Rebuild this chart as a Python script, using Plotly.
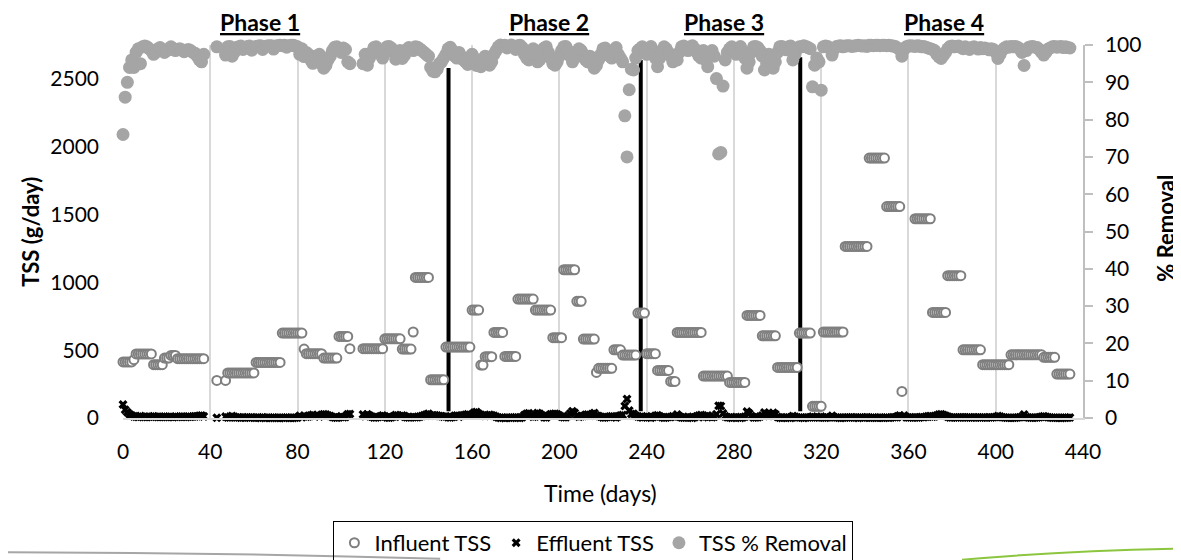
import plotly.graph_objects as go

# ---------------- data ----------------
# Influent TSS (g/day): weekly composite values held constant over runs of days
inf_start = [0, 5, 6, 14, 19, 22, 25, 43, 47, 48, 61, 73, 83, 84, 92, 99, 104,
             110, 120, 128, 133, 134, 141, 148, 160, 164, 166, 170, 175, 181, 189,
             197, 202, 208, 211, 217, 218, 225, 229, 236, 240, 245, 251, 254, 266,
             278, 286, 293, 300, 310, 316, 321, 331, 342, 350, 357, 363, 371, 378,
             385, 394, 407, 422, 428]
inf_end = [4, 5, 13, 18, 21, 24, 37, 43, 47, 60, 72, 82, 83, 91, 98, 103, 104,
           119, 127, 132, 133, 140, 147, 159, 163, 165, 169, 174, 180, 188, 196,
           201, 207, 210, 216, 217, 224, 228, 235, 239, 244, 250, 253, 265, 277,
           285, 292, 299, 309, 315, 320, 330, 341, 349, 356, 357, 370, 377, 384,
           393, 406, 421, 427, 434]
inf_value = [413, 430, 472, 393, 442, 461, 437, 277, 277, 332, 410, 626, 508, 474,
             442, 601, 511, 511, 584, 508, 634, 1036, 282, 523, 796, 390, 452, 631,
             454, 877, 796, 592, 1093, 860, 582, 336, 366, 503, 464, 774, 474, 351,
             270, 631, 309, 262, 756, 606, 373, 626, 86, 634, 1265, 1916, 1559, 196,
             1469, 778, 1049, 503, 393, 466, 447, 324]

# Daily blocks for effluent TSS and % removal
blk_start = [0, 43, 47, 110, 148, 237, 311]
blk_end = [37, 43, 104, 147, 236, 310, 434]

removal_blocks = [
    [76, 86, 90, 94, 96, 94, 98, 99, 95, 99.5,
     99.7, 99.5, 99, 98.5, 97.5, 98, 99, 99.3, 98.5, 98,
     98.5, 99, 99.5, 99, 98.5, 98.8, 99, 98.7, 98.2, 98.6,
     98.8, 98.5, 98, 97.8, 97, 96, 95.5, 97.5],
    [99.5],
    [97.3, 99.5, 99.6, 97, 98, 99.3, 99.5, 99.7, 98.8, 99.2,
     99.6, 99.7, 98.6, 99.4, 99.6, 99.7, 99.8, 98.8, 99.5, 99.7,
     99.8, 99.8, 98.9, 99.7, 99.8, 99.9, 99.8, 99.9, 99.4, 99.8,
     99.9, 99.9, 99.7, 99.5, 97.5, 99, 96.9, 98, 97.5, 96,
     95.1, 97, 96, 97.5, 95, 93.8, 94.5, 96, 97, 98.5,
     99.4, 99.5, 99, 98, 99.2, 98.8, 95.5, 95],
    [95, 97.5, 94.6, 96.5, 98, 99.3, 99.5, 98.5, 97.5, 96.5,
     98, 99.5, 99.6, 99.2, 98, 96.2, 97, 98.5, 96.4, 97.2,
     98.8, 99.3, 99, 98.5, 99.5, 99.4, 99, 98.5, 98, 97.5,
     97, 94, 93, 92.8, 93.5, 95, 95.5, 96.5],
    [97.5, 99, 99.4, 98.5, 97, 96.5, 98, 97, 96, 95.5,
     94.8, 96, 97.5, 95, 94.5, 96, 94.2, 95.5, 97, 96,
     94.6, 95.5, 97.5, 98.5, 99.5, 100, 99.8, 99.9, 99.2, 99.7,
     100, 99.5, 98.8, 99.8, 99.9, 99.3, 97.5, 96.5, 96, 97.5,
     99, 98.5, 95.5, 96, 97.8, 99.2, 99.5, 98, 96.5, 95,
     94.6, 95.5, 97, 98.5, 99.5, 99.6, 98.5, 97, 95.5, 96.5,
     98, 99, 98.5, 97.5, 96, 95.5, 97, 95, 93.8, 94.5,
     96, 97.5, 99, 99.2, 98, 97, 96.5, 98.5, 99.3, 97.5,
     96.5, 95.5, 81, 70, 88, 93.5, 93.3, 96.5, 98.5],
    [99, 99.5, 98.5, 97.5, 99, 99.6, 98.5, 96.5, 94.2, 96.5,
     98.5, 99.5, 99, 98, 97, 95.5, 96.5, 96, 98, 99.5,
     99.7, 99.3, 98.5, 99.5, 99.8, 99, 98, 97, 96.5, 98.5,
     96, 94.2, 97, 98.5, 97, 91, 70.8, 71.2, 89, 96,
     98, 99, 99.5, 98.5, 97.5, 99, 99.6, 98.5, 96.5, 93.8,
     95.5, 98, 99.5, 99.6, 99.3, 98.5, 97, 93.3, 95, 97.5,
     96, 93.8, 95.5, 98, 99.5, 99.6, 99.3, 98.7, 99.5, 99.7,
     96, 97.5, 99, 99.5],
    [99.5, 99.8, 99.6, 99.3, 99, 88.8, 94.6, 96.5, 95.5, 87.9,
     99.5, 99.7, 99.6, 99.2, 97.3, 99, 99.6, 99.7, 99.8, 99.5,
     99.7, 99.8, 99.8, 99.6, 99.7, 99.8, 99.9, 99.8, 99.7, 99.8,
     99.6, 99.9, 99.9, 99.8, 99.9, 99.9, 99.8, 99.9, 99.9, 99.8,
     99.9, 99.8, 99.7, 99.6, 99.2, 98.8, 97, 98.8, 99.5, 99.7,
     99.8, 99.7, 99.6, 99.8, 99.7, 99.5, 99.6, 99.4, 99.2, 99,
     98.8, 98.5, 97.5, 96.8, 96.4, 97.2, 98, 99, 99.6, 99.7,
     99.5, 99.6, 99.7, 99.4, 99, 99.5, 99.2, 98.8, 99.3, 99.5,
     99.2, 98.9, 99.3, 99, 99.2, 99, 98.7, 99, 98.8, 98,
     96.4, 97.5, 98.6, 99.2, 99.5, 99.4, 99.6, 99.5, 99.6, 99.4,
     99, 98, 94.5, 98.5, 99.3, 99.5, 99.6, 99.4, 99.3, 98.8,
     98, 97.3, 98, 98.9, 99.2, 99.5, 99.6, 99.4, 99.5, 99.6,
     99.3, 99.5, 99.3, 99.2],
]

effluent_blocks = [
    [100, 60, 42, 28, 18, 12, 10, 8, 14, 9,
     7, 8, 10, 9, 12, 9, 8, 7, 9, 10,
     8, 7, 9, 8, 10, 8, 9, 11, 9, 8,
     10, 9, 11, 12, 13, 16, 18, 12],
    [2],
    [10, 4, 3, 14, 9, 4, 3, 2, 5, 4,
     3, 2, 5, 3, 2, 2, 1, 5, 2, 2,
     1, 1, 4, 2, 1, 1, 2, 1, 4, 2,
     1, 1, 2, 4, 16, 6, 16, 10, 12, 19,
     23, 14, 19, 12, 24, 27, 25, 18, 14, 7,
     3, 2, 6, 12, 5, 7, 27, 30],
    [26, 13, 28, 18, 10, 4, 3, 8, 13, 18,
     12, 3, 2, 5, 12, 22, 18, 9, 18, 14,
     6, 4, 5, 9, 5, 6, 10, 15, 20, 26,
     31, 17, 20, 20, 18, 14, 13, 10],
    [13, 5, 3, 8, 16, 18, 10, 16, 21, 24,
     27, 21, 20, 40, 44, 32, 23, 18, 14, 18,
     24, 20, 16, 9, 3, 1, 2, 1, 4, 2,
     1, 3, 6, 2, 1, 6, 22, 31, 35, 22,
     9, 12, 36, 32, 18, 6, 4, 16, 28, 30,
     32, 27, 18, 9, 6, 5, 16, 33, 49, 38,
     17, 9, 13, 15, 23, 26, 17, 29, 36, 19,
     15, 9, 4, 3, 7, 11, 13, 8, 4, 13,
     18, 22, 88, 140, 56, 30, 31, 16, 12],
    [8, 4, 8, 12, 5, 2, 7, 17, 20, 12,
     5, 2, 4, 7, 8, 12, 9, 25, 13, 4,
     2, 4, 9, 3, 1, 6, 13, 19, 22, 5,
     12, 18, 9, 5, 9, 28, 90, 89, 34, 12,
     6, 3, 1, 4, 7, 3, 1, 4, 9, 47,
     34, 15, 4, 3, 5, 11, 18, 41, 30, 15,
     24, 38, 27, 7, 2, 1, 3, 5, 2, 1,
     15, 9, 4, 3],
    [3, 1, 3, 4, 6, 10, 5, 3, 4, 10,
     3, 2, 3, 5, 17, 6, 3, 2, 1, 3,
     4, 3, 3, 5, 4, 3, 1, 3, 4, 3,
     5, 2, 2, 4, 2, 2, 4, 2, 2, 3,
     2, 3, 5, 6, 12, 19, 6, 18, 7, 4,
     3, 4, 6, 3, 4, 7, 6, 9, 12, 15,
     9, 12, 19, 25, 28, 22, 16, 10, 4, 3,
     5, 4, 3, 6, 5, 3, 4, 6, 4, 3,
     4, 6, 4, 4, 3, 4, 5, 4, 5, 8,
     14, 10, 6, 3, 2, 2, 2, 2, 2, 3,
     5, 9, 26, 7, 3, 2, 2, 3, 3, 6,
     9, 12, 9, 5, 4, 2, 2, 2, 2, 1,
     2, 2, 2, 3],
]

x_ticks = list(range(0, 441, 40))
y_ticks = list(range(0, 2501, 500))
y2_ticks = list(range(0, 101, 10))
phase_lines = [149.2, 237.3, 310.4]
phase_line_top = [2580, 2640, 2660]
phase_names = ["Phase 1", "Phase 2", "Phase 3", "Phase 4"]
phase_label_x = [63, 195.4, 275.5, 376.3]

# ---------------- build series ----------------
inf_days, inf_vals = [], []
for s, e, v in zip(inf_start, inf_end, inf_value):
    for d in range(s, e + 1):
        inf_days.append(d)
        inf_vals.append(v)

days, removal, effluent = [], [], []
for s, e, r, f in zip(blk_start, blk_end, removal_blocks, effluent_blocks):
    dd = list(range(s, e + 1))
    assert len(dd) == len(r) == len(f), (s, e, len(dd), len(r), len(f))
    days += dd
    removal += r
    effluent += f

FONT = "Lato"
fig = go.Figure()
fig.add_trace(go.Scatter(
    x=inf_days, y=inf_vals, mode="markers", name="Influent TSS",
    marker=dict(symbol="circle", size=9, color="white",
                line=dict(color="#7F7F7F", width=2)),
    cliponaxis=False))
fig.add_trace(go.Scatter(
    x=days, y=effluent, mode="markers", name="Effluent TSS",
    marker=dict(symbol="x", size=8, color="black", line=dict(width=0)),
    cliponaxis=False))
fig.add_trace(go.Scatter(
    x=days, y=removal, mode="markers", name="TSS % Removal", yaxis="y2",
    marker=dict(symbol="circle", size=13, color="#A5A5A5", line=dict(width=0)),
    cliponaxis=False))

shapes = []
for xv, top in zip(phase_lines, phase_line_top):
    shapes.append(dict(type="line", xref="x", yref="y", x0=xv, x1=xv, y0=50, y1=top,
                       line=dict(color="black", width=4), layer="below"))
# decorative slide curves at the bottom
shapes.append(dict(type="path", xref="paper", yref="paper",
                   path="M -0.1300,-0.3598 Q 0.1015,-0.3600 0.3304,-0.3775",
                   line=dict(color="#A6A6A6", width=2), layer="above"))
shapes.append(dict(type="path", xref="paper", yref="paper",
                   path="M 0.8740,-0.3800 Q 0.9800,-0.3560 1.1030,-0.3500",
                   line=dict(color="#8CC63F", width=2), layer="above"))

annotations = []
for name, xv in zip(phase_names, phase_label_x):
    annotations.append(dict(text="<b><u>%s</u></b>" % name, x=xv, xref="x",
                            y=1.062, yref="paper", showarrow=False,
                            font=dict(family=FONT, size=23, color="black"),
                            xanchor="center", yanchor="middle"))
annotations.append(dict(text="<b>TSS (g/day)</b>", x=-0.0965, y=0.5, xref="paper",
                        yref="paper", textangle=-90, showarrow=False,
                        font=dict(family=FONT, size=22, color="black"),
                        xanchor="center", yanchor="middle"))
annotations.append(dict(text="<b>% Removal</b>", x=1.0864, y=0.51, xref="paper",
                        yref="paper", textangle=-90, showarrow=False,
                        font=dict(family=FONT, size=22, color="black"),
                        xanchor="center", yanchor="middle"))
annotations.append(dict(text="Time (days)", x=0.497, y=-0.200, xref="paper",
                        yref="paper", showarrow=False,
                        font=dict(family=FONT, size=23, color="black"),
                        xanchor="center", yanchor="middle"))

# the page adds an 8 px body margin, so the figure is 8 px smaller than the window
fig.update_layout(
    width=1173, height=552,
    margin=dict(l=115, r=98, t=37, b=142, autoexpand=False),
    paper_bgcolor="white", plot_bgcolor="white",
    font=dict(family=FONT, size=21, color="black"),
    showlegend=True,
    legend=dict(orientation="h", x=0.49, xanchor="center", y=-0.276, yanchor="top",
                bordercolor="black", borderwidth=1, bgcolor="rgba(255,255,255,0)",
                font=dict(family=FONT, size=22, color="black"), itemwidth=30),
    xaxis=dict(range=[0, 440], tickvals=x_ticks, showgrid=True, gridcolor="#D9D9D9",
               gridwidth=1.5, zeroline=False, showline=True, linecolor="#D9D9D9",
               linewidth=1.5, ticks="", ticklabelstandoff=14,
               tickfont=dict(family=FONT, size=21, color="black")),
    yaxis=dict(range=[0, 2750], tickvals=y_ticks, showgrid=False, zeroline=False,
               showline=False, ticks="", ticklabelstandoff=23,
               tickfont=dict(family=FONT, size=21, color="black")),
    yaxis2=dict(range=[0, 100], tickvals=y2_ticks, overlaying="y", side="right",
                anchor="x", showgrid=False, zeroline=False, showline=True,
                linecolor="#BFBFBF", linewidth=1.5, ticks="outside", ticklen=8,
                tickcolor="#BFBFBF", tickwidth=1.5, ticklabelstandoff=8,
                tickfont=dict(family=FONT, size=21, color="black")),
    shapes=shapes,
    annotations=annotations,
)

fig.write_html("out.html")
